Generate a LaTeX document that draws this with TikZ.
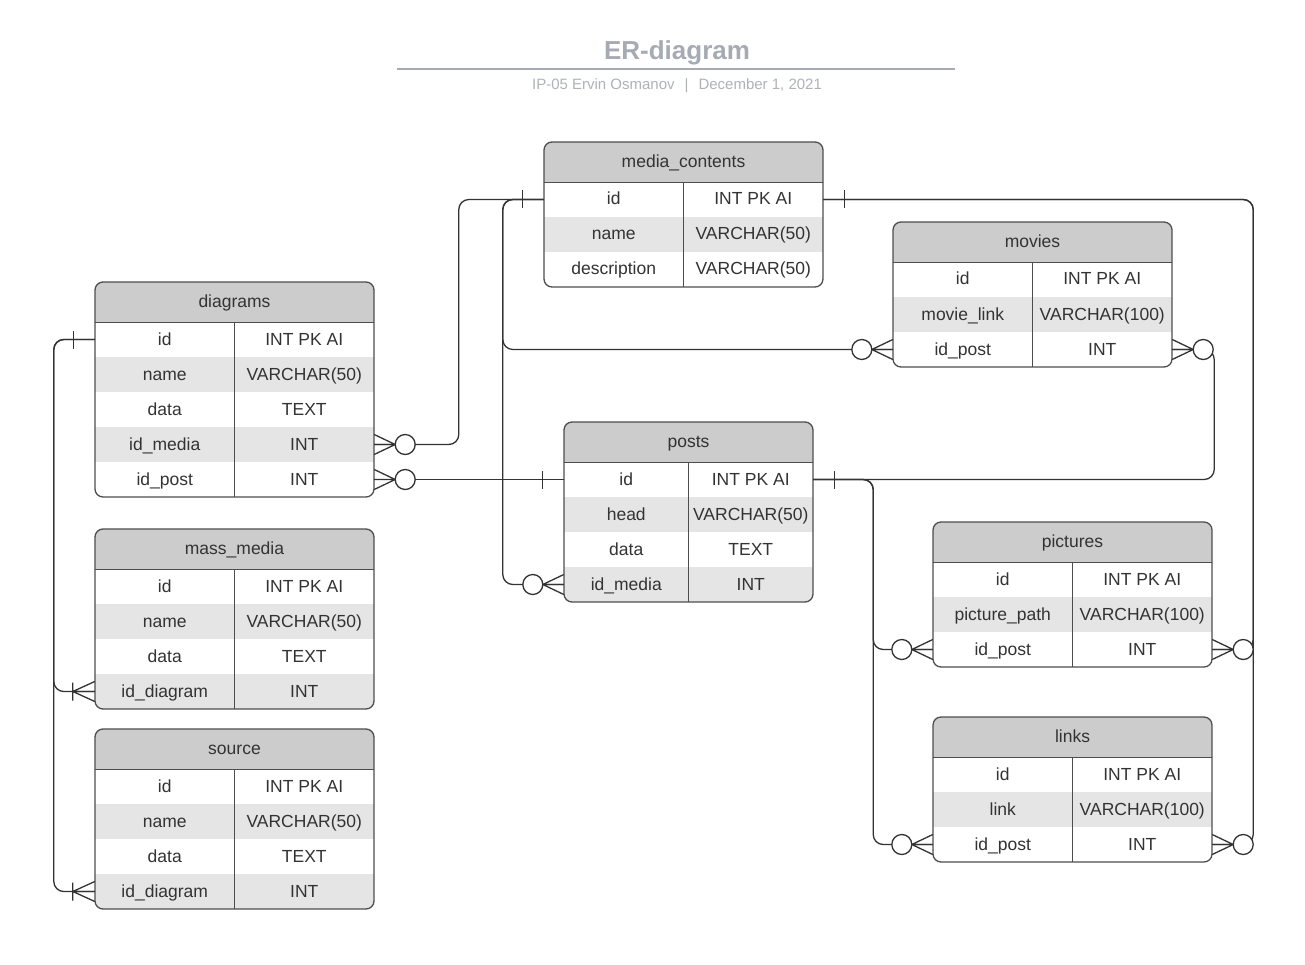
\documentclass[tikz,border=0pt]{standalone}
\usepackage{fontspec}
\setmainfont{Liberation Sans}
\usetikzlibrary{calc}

\definecolor{headgray}{HTML}{CCCCCC}
\definecolor{rowgray}{HTML}{E5E5E5}
\definecolor{framegray}{HTML}{4D4D4D}
\definecolor{inkgray}{HTML}{333333}
\definecolor{titlegray}{HTML}{A6AAB3}
\definecolor{subgray}{HTML}{AEB1B8}

\tikzset{
 head/.style={fill=headgray, minimum width=279, minimum height=40, inner sep=0, text height=12, text depth=1, text=inkgray, font=\fontsize{17.5}{21}\selectfont},
 cell/.style={minimum width=139.5, minimum height=35, inner sep=0, text height=12, text depth=1, text=inkgray, font=\fontsize{17.5}{21}\selectfont},
 frame/.style={draw=framegray, line width=1.3},
 link/.style={draw=inkgray, line width=1.3, rounded corners=10},
 onebar/.pic={\draw[link] (21,-9) -- (21,9);},
 crowbar/.pic={\draw[link] (0,-10) -- (22,0) (0,0) -- (22,0) (0,10) -- (22,0) (22,-9) -- (22,9);},
 crowopt/.pic={\draw[link] (0,-10) -- (21,0) (0,0) -- (21,0) (0,10) -- (21,0); \draw[link, fill=white] (31,0) circle (10);}
}

\begin{document}
\begin{tikzpicture}[x=1pt, y=-1pt]
\useasboundingbox (0,0) rectangle (1305,965);
\node[font=\fontsize{26}{30}\selectfont\bfseries, text=titlegray, anchor=base] (title) at (677,60) {ER-diagram};
\draw[titlegray, line width=2] (397,69.5) -- (955,69.5);
\node[font=\fontsize{15}{18}\selectfont, text=subgray, anchor=base] (subtitle) at (677,90) {IP-05 Ervin Osmanov\hspace{10pt}|\hspace{10pt}December 1, 2021};

\begin{scope}
\clip[rounded corners=8] (544,142) rectangle (823,287);
\node[head] (media) at (683.5,162) {media\_contents};
\foreach \k/\ty [count=\i] in {id/INT PK AI, name/VARCHAR(50), description/VARCHAR(50)} {
 \pgfmathtruncatemacro\p{100*(1-mod(\i,2))}
 \node[cell, fill=rowgray!\p] (media-k\i) at (613.75,164.5+35*\i) {\k};
 \node[cell, fill=rowgray!\p] (media-t\i) at (753.25,164.5+35*\i) {\ty};
}
\end{scope}
\draw[frame, rounded corners=8] (544,142) rectangle (823,287);
\draw[frame] (media.south west) -- (media.south east) (media-k1.north east) -- (media-k3.south east);

\begin{scope}
\clip[rounded corners=8] (893,222) rectangle (1172,367);
\node[head] (movies) at (1032.5,242) {movies};
\foreach \k/\ty [count=\i] in {id/INT PK AI, movie\_link/VARCHAR(100), id\_post/INT} {
 \pgfmathtruncatemacro\p{100*(1-mod(\i,2))}
 \node[cell, fill=rowgray!\p] (movies-k\i) at (962.75,244.5+35*\i) {\k};
 \node[cell, fill=rowgray!\p] (movies-t\i) at (1102.25,244.5+35*\i) {\ty};
}
\end{scope}
\draw[frame, rounded corners=8] (893,222) rectangle (1172,367);
\draw[frame] (movies.south west) -- (movies.south east) (movies-k1.north east) -- (movies-k3.south east);

\begin{scope}
\clip[rounded corners=8] (95,282) rectangle (374,497);
\node[head] (diagrams) at (234.5,302) {diagrams};
\foreach \k/\ty [count=\i] in {id/INT PK AI, name/VARCHAR(50), data/TEXT, id\_media/INT, id\_post/INT} {
 \pgfmathtruncatemacro\p{100*(1-mod(\i,2))}
 \node[cell, fill=rowgray!\p] (diagrams-k\i) at (164.75,304.5+35*\i) {\k};
 \node[cell, fill=rowgray!\p] (diagrams-t\i) at (304.25,304.5+35*\i) {\ty};
}
\end{scope}
\draw[frame, rounded corners=8] (95,282) rectangle (374,497);
\draw[frame] (diagrams.south west) -- (diagrams.south east) (diagrams-k1.north east) -- (diagrams-k5.south east);

\begin{scope}
\clip[rounded corners=8] (95,529) rectangle (374,709);
\node[head] (mass) at (234.5,549) {mass\_media};
\foreach \k/\ty [count=\i] in {id/INT PK AI, name/VARCHAR(50), data/TEXT, id\_diagram/INT} {
 \pgfmathtruncatemacro\p{100*(1-mod(\i,2))}
 \node[cell, fill=rowgray!\p] (mass-k\i) at (164.75,551.5+35*\i) {\k};
 \node[cell, fill=rowgray!\p] (mass-t\i) at (304.25,551.5+35*\i) {\ty};
}
\end{scope}
\draw[frame, rounded corners=8] (95,529) rectangle (374,709);
\draw[frame] (mass.south west) -- (mass.south east) (mass-k1.north east) -- (mass-k4.south east);

\begin{scope}
\clip[rounded corners=8] (95,729) rectangle (374,909);
\node[head] (source) at (234.5,749) {source};
\foreach \k/\ty [count=\i] in {id/INT PK AI, name/VARCHAR(50), data/TEXT, id\_diagram/INT} {
 \pgfmathtruncatemacro\p{100*(1-mod(\i,2))}
 \node[cell, fill=rowgray!\p] (source-k\i) at (164.75,751.5+35*\i) {\k};
 \node[cell, fill=rowgray!\p] (source-t\i) at (304.25,751.5+35*\i) {\ty};
}
\end{scope}
\draw[frame, rounded corners=8] (95,729) rectangle (374,909);
\draw[frame] (source.south west) -- (source.south east) (source-k1.north east) -- (source-k4.south east);

\begin{scope}
\clip[rounded corners=8] (564,422) rectangle (813,602);
\node[head, minimum width=249] (posts) at (688.5,442) {posts};
\foreach \k/\ty [count=\i] in {id/INT PK AI, head/VARCHAR(50), data/TEXT, id\_media/INT} {
 \pgfmathtruncatemacro\p{100*(1-mod(\i,2))}
 \node[cell, minimum width=124.5, fill=rowgray!\p] (posts-k\i) at (626.25,444.5+35*\i) {\k};
 \node[cell, minimum width=124.5, fill=rowgray!\p] (posts-t\i) at (750.75,444.5+35*\i) {\ty};
}
\end{scope}
\draw[frame, rounded corners=8] (564,422) rectangle (813,602);
\draw[frame] (posts.south west) -- (posts.south east) (posts-k1.north east) -- (posts-k4.south east);

\begin{scope}
\clip[rounded corners=8] (933,522) rectangle (1212,667);
\node[head] (pictures) at (1072.5,542) {pictures};
\foreach \k/\ty [count=\i] in {id/INT PK AI, picture\_path/VARCHAR(100), id\_post/INT} {
 \pgfmathtruncatemacro\p{100*(1-mod(\i,2))}
 \node[cell, fill=rowgray!\p] (pictures-k\i) at (1002.75,544.5+35*\i) {\k};
 \node[cell, fill=rowgray!\p] (pictures-t\i) at (1142.25,544.5+35*\i) {\ty};
}
\end{scope}
\draw[frame, rounded corners=8] (933,522) rectangle (1212,667);
\draw[frame] (pictures.south west) -- (pictures.south east) (pictures-k1.north east) -- (pictures-k3.south east);

\begin{scope}
\clip[rounded corners=8] (933,717) rectangle (1212,862);
\node[head] (links) at (1072.5,737) {links};
\foreach \k/\ty [count=\i] in {id/INT PK AI, link/VARCHAR(100), id\_post/INT} {
 \pgfmathtruncatemacro\p{100*(1-mod(\i,2))}
 \node[cell, fill=rowgray!\p] (links-k\i) at (1002.75,739.5+35*\i) {\k};
 \node[cell, fill=rowgray!\p] (links-t\i) at (1142.25,739.5+35*\i) {\ty};
}
\end{scope}
\draw[frame, rounded corners=8] (933,717) rectangle (1212,862);
\draw[frame] (links.south west) -- (links.south east) (links-k1.north east) -- (links-k3.south east);

\draw[link] (media-k1.west) -- ++(-85,0) |- (diagrams-t4.east);
\draw[link] (media-k1.west) -- ++(-41,0) |- (movies-k3.west);
\draw[link] (media-k1.west) -- ++(-41,0) |- (posts-k4.west);
\draw[link] (media-t1.east) -- ++(430,0) |- (pictures-t3.east);
\draw[link] (media-t1.east) -- ++(430,0) |- (links-t3.east);
\draw[link] (posts-k1.west) -- (diagrams-t5.east);
\draw[link] (posts-t1.east) -- ++(401,0) |- (movies-t3.east);
\draw[link] (posts-t1.east) -- ++(60,0) |- (pictures-k3.west);
\draw[link] (posts-t1.east) -- ++(60,0) |- (links-k3.west);
\draw[link] (diagrams-k1.west) -- ++(-41,0) |- (mass-k4.west);
\draw[link] (diagrams-k1.west) -- ++(-41,0) |- (source-k4.west);

\foreach \n in {diagrams-t4, diagrams-t5, movies-t3, pictures-t3, links-t3}
 \pic at (\n.east) {crowopt};
\foreach \n in {movies-k3, posts-k4, pictures-k3, links-k3}
 \pic[rotate=180] at (\n.west) {crowopt};
\foreach \n in {mass-k4, source-k4}
 \pic[rotate=180] at (\n.west) {crowbar};
\foreach \n in {media-k1, posts-k1, diagrams-k1}
 \pic[rotate=180] at (\n.west) {onebar};
\foreach \n in {media-t1, posts-t1}
 \pic at (\n.east) {onebar};
\end{tikzpicture}
\end{document}
